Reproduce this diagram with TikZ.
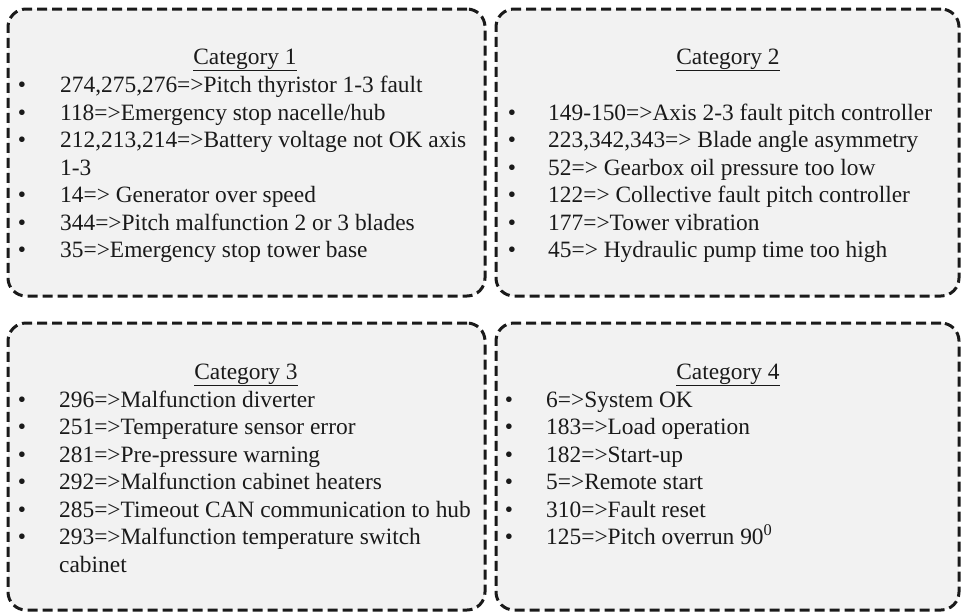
\documentclass[tikz,border=0pt]{standalone}
\usepackage{fontspec}
\setmainfont{Liberation Serif}
\definecolor{boxfill}{HTML}{F2F2F2}
\definecolor{ink}{HTML}{1A1A1A}
\tikzset{
  catbox/.style={draw=ink, fill=boxfill, line width=3pt, dash pattern=on 10pt off 5pt,
     rounded corners=18pt, rectangle, inner sep=0pt},
  txt/.style={anchor=base west, inner sep=0pt, text=ink, font=\fontsize{23.4}{27.5}\selectfont},
  ttl/.style={anchor=base, inner sep=0pt, text=ink, font=\fontsize{23.4}{27.5}\selectfont},
  bul/.style={anchor=base, inner sep=0pt, text=ink, font=\fontsize{23.4}{27.5}\selectfont},
}
\begin{document}
\begin{tikzpicture}[x=1pt,y=-1pt]
\useasboundingbox (0,0) rectangle (962,614);
% boxes
\node[catbox, minimum width=477pt, minimum height=287pt] (box1) at (246.5,152.5) {};
\node[catbox, minimum width=463pt, minimum height=287pt] (box2) at (727.5,152.5) {};
\node[catbox, minimum width=477pt, minimum height=287pt] (box3) at (246.5,466.5) {};
\node[catbox, minimum width=463pt, minimum height=287pt] (box4) at (727.5,466.5) {};
% Category 1
\node[ttl] (t1) at (245,64) {\underline{Category 1}};
\foreach \y/\n in {92/a,120/b,147/c,202/d,230/e,257/f}{\node[bul] (b1\n) at (22,\y) {•};}
\node[txt] (l1a) at (60,92) {274,275,276=>Pitch thyristor 1-3 fault};
\node[txt] (l1b) at (60,120) {118=>Emergency stop nacelle/hub};
\node[txt] (l1c) at (60,147) {212,213,214=>Battery voltage not OK axis};
\node[txt] (l1c2) at (60,175) {1-3};
\node[txt] (l1d) at (60,202) {14=> Generator over speed};
\node[txt] (l1e) at (60,230) {344=>Pitch malfunction 2 or 3 blades};
\node[txt] (l1f) at (60,257) {35=>Emergency stop tower base};
% Category 2
\node[ttl] (t2) at (728,64) {\underline{Category 2}};
\foreach \y/\n in {120/a,147/b,175/c,202/d,230/e,257/f}{\node[bul] (b2\n) at (512,\y) {•};}
\node[txt] (l2a) at (548,120) {149-150=>Axis 2-3 fault pitch controller};
\node[txt] (l2b) at (548,147) {223,342,343=> Blade angle asymmetry};
\node[txt] (l2c) at (548,175) {52=> Gearbox oil pressure too low};
\node[txt] (l2d) at (548,202) {122=> Collective fault pitch controller};
\node[txt] (l2e) at (548,230) {177=>Tower vibration};
\node[txt] (l2f) at (548,257) {45=> Hydraulic pump time too high};
% Category 3
\node[ttl] (t3) at (246,379) {\underline{Category 3}};
\foreach \y/\n in {407/a,434.5/b,462/c,489.5/d,517/e,544.5/f}{\node[bul] (b3\n) at (22,\y) {•};}
\node[txt] (l3a) at (59,407) {296=>Malfunction diverter};
\node[txt] (l3b) at (59,434.5) {251=>Temperature sensor error};
\node[txt] (l3c) at (59,462) {281=>Pre-pressure warning};
\node[txt] (l3d) at (59,489.5) {292=>Malfunction cabinet heaters};
\node[txt] (l3e) at (59,517) {285=>Timeout CAN communication to hub};
\node[txt] (l3f) at (59,544.5) {293=>Malfunction temperature switch};
\node[txt] (l3f2) at (59,572) {cabinet};
% Category 4
\node[ttl] (t4) at (728,379) {\underline{Category 4}};
\foreach \y/\n in {407/a,434.5/b,462/c,489.5/d,517/e,544.5/f}{\node[bul] (b4\n) at (509,\y) {•};}
\node[txt] (l4a) at (546,407) {6=>System OK};
\node[txt] (l4b) at (546,434.5) {183=>Load operation};
\node[txt] (l4c) at (546,462) {182=>Start-up};
\node[txt] (l4d) at (546,489.5) {5=>Remote start};
\node[txt] (l4e) at (546,517) {310=>Fault reset};
\node[txt] (l4f) at (546,544.5) {125=>Pitch overrun 90\textsuperscript{0}};
\end{tikzpicture}
\end{document}
